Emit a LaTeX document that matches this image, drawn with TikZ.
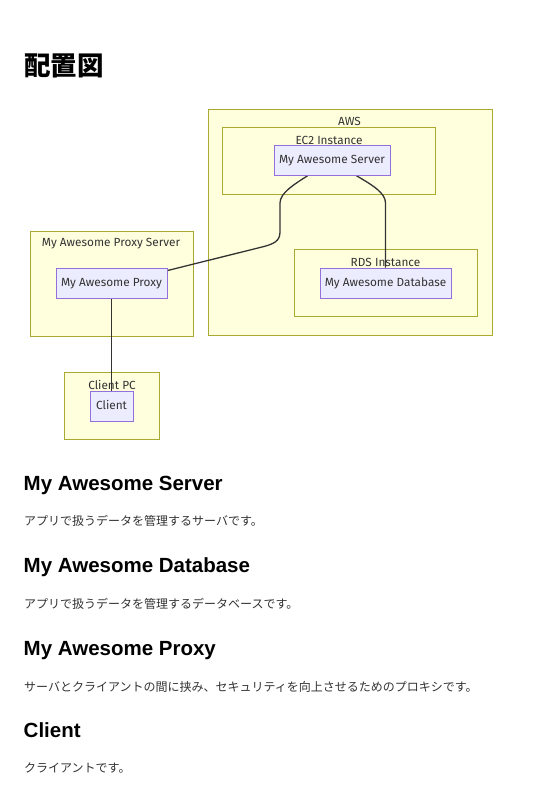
\documentclass[tikz,border=0pt]{standalone}
\usepackage{fontspec}
\setmainfont{Liberation Sans}
\newfontfamily\cjk{Noto Sans CJK JP}
\newfontfamily\dfont{Fira Sans}
\definecolor{clfill}{HTML}{FFFFDE}
\definecolor{cldraw}{HTML}{AAAA33}
\definecolor{ndfill}{HTML}{ECECFF}
\definecolor{nddraw}{HTML}{9370DB}
\definecolor{lncol}{HTML}{333333}
\definecolor{txcol}{HTML}{333333}
\begin{document}
\begin{tikzpicture}[x=1pt,y=-1pt,
  cluster/.style={draw=cldraw,fill=clfill,line width=0.9pt,anchor=north west,inner sep=0pt},
  dnode/.style={draw=nddraw,fill=ndfill,line width=0.9pt,inner sep=0pt,minimum height=30pt,text height=8.6pt,text depth=2.4pt,font=\dfont\fontsize{11.8}{13}\selectfont,text=txcol},
  clabel/.style={font=\dfont\fontsize{11.8}{13}\selectfont,text=txcol,inner sep=0pt},
  link/.style={draw=lncol,line width=1.3pt},
  head/.style={font=\bfseries\fontsize{20.5}{24}\selectfont,anchor=base west,inner sep=0pt},
  body/.style={font=\cjk\fontsize{12}{14}\selectfont,text=txcol,anchor=west,inner sep=0pt}]
\useasboundingbox[fill=white] (0,0) rectangle (536,800);
% title
\node[font=\cjk\bfseries\fontsize{26.5}{30}\selectfont,anchor=west,inner sep=0pt] (title) at (24,66) {配置図};
% clusters
\node[cluster,minimum width=284.5pt,minimum height=226.5pt] (aws) at (207.5,108.5) {};
\node[cluster,minimum width=213pt,minimum height=67pt] (ec2) at (222,127) {};
\node[cluster,minimum width=183pt,minimum height=67pt] (rds) at (294,249) {};
\node[cluster,minimum width=163pt,minimum height=105pt] (pxs) at (30,231) {};
\node[cluster,minimum width=95pt,minimum height=67pt] (cpc) at (64,372) {};
\node[clabel] (awsl) at (349.5,121.5) {AWS};
\node[clabel] (ec2l) at (329,140) {EC2 Instance};
\node[clabel] (rdsl) at (385.5,262.5) {RDS Instance};
\node[clabel] (pxsl) at (111,244) {My Awesome Proxy Server};
\node[clabel] (cpcl) at (112,385) {Client PC};
% nodes (positions)
\coordinate (srvc) at (332,160);
\coordinate (dbc) at (385.5,283);
\coordinate (prxc) at (111.5,283);
\coordinate (clic) at (111.5,406);
\path (srvc) node[dnode,minimum width=116pt] (srv) {My Awesome Server};
\path (dbc) node[dnode,minimum width=131pt] (db) {My Awesome Database};
\path (prxc) node[dnode,minimum width=111pt] (prx) {My Awesome Proxy};
\path (clic) node[dnode,minimum width=43pt] (cli) {Client};
% connectors
\draw[link] ([xshift=-24pt]srv.south) .. controls +(-14pt,-9pt) and +(0pt,10pt) .. (280,203) -- (280,232)
  .. controls (280,241) and (274,244) .. (262,247) -- ([yshift=-3pt]prx.north east);
\draw[link] ([xshift=24pt]srv.south) .. controls +(17pt,-10pt) and +(0pt,10pt) .. (385.5,203) -- (db.north);
\draw[link] (prx.south) -- (cli.north);
% redraw nodes on top
\path (srvc) node[dnode,minimum width=116pt] {My Awesome Server};
\path (dbc) node[dnode,minimum width=131pt] {My Awesome Database};
\path (prxc) node[dnode,minimum width=111pt] {My Awesome Proxy};
\path (clic) node[dnode,minimum width=43pt] {Client};
% text sections
\node[head] (h1) at (23.5,490.7) {My Awesome Server};
\node[body] (b1) at (24,521) {アプリで扱うデータを管理するサーバです。};
\node[head] (h2) at (23.5,572.7) {My Awesome Database};
\node[body] (b2) at (24,604) {アプリで扱うデータを管理するデータベースです。};
\node[head] (h3) at (23.5,655) {My Awesome Proxy};
\node[body] (b3) at (24,687) {サーバとクライアントの間に挟み、セキュリティを向上させるためのプロキシです。};
\node[head] (h4) at (23.5,737) {Client};
\node[body] (b4) at (24,768.5) {クライアントです。};
\end{tikzpicture}
\end{document}
